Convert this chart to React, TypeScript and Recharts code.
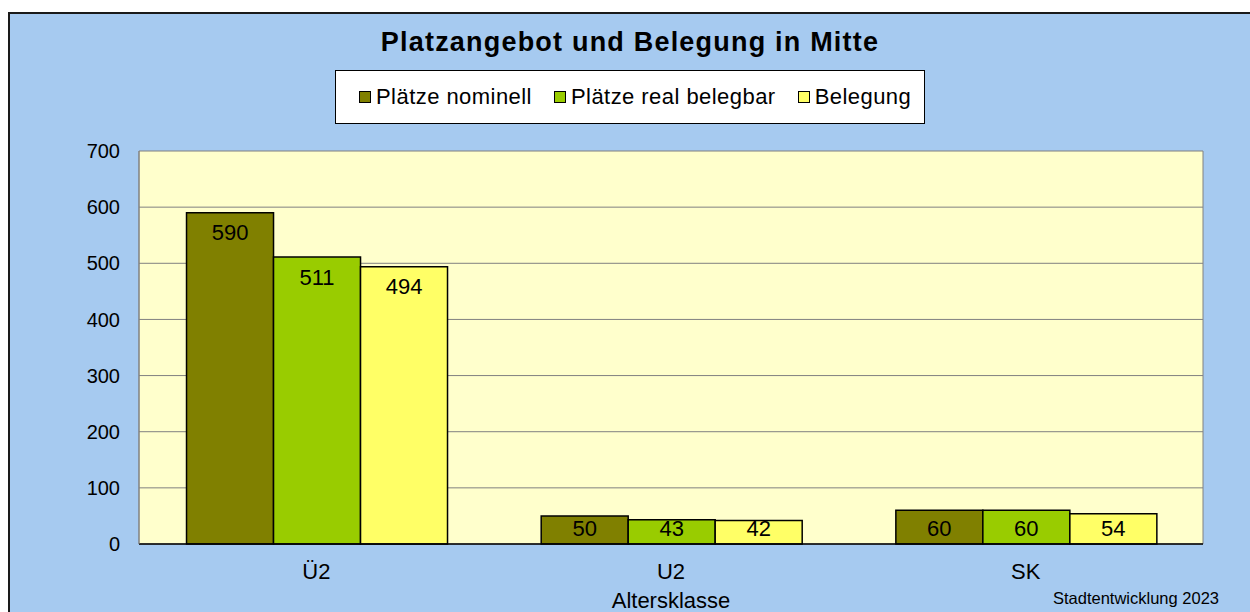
import React from "react";
import { BarChart, Bar, XAxis, YAxis, CartesianGrid, LabelList } from "recharts";

const categories = ["Ü2", "U2", "SK"];
const plaetzeNominell = [590, 50, 60];
const plaetzeReal = [511, 43, 60];
const belegung = [494, 42, 54];
const yTicks = [0, 100, 200, 300, 400, 500, 600, 700];

const FONT = '"Liberation Sans", Arial, sans-serif';

const SERIES = [
  { key: "nominell", name: "Plätze nominell", color: "#808000" },
  { key: "real", name: "Plätze real belegbar", color: "#99CC00" },
  { key: "belegung", name: "Belegung", color: "#FFFF66" },
];

const data = categories.map((category, i) => ({
  category,
  nominell: plaetzeNominell[i],
  real: plaetzeReal[i],
  belegung: belegung[i],
}));

// Wert innen oben, bei kurzen Balken etwas nach oben geschoben
const renderInsideLabel = (props: any) => {
  const x = Number(props.x);
  const y = Number(props.y);
  const width = Number(props.width);
  const height = Number(props.height);
  const cy = Math.min(y + 20, y + height - 16);
  return (
    <text
      x={x + width / 2}
      y={cy}
      textAnchor="middle"
      dominantBaseline="central"
      fontSize={22}
      fontFamily={FONT}
      fill="#000"
    >
      {props.value}
    </text>
  );
};

export default function App() {
  return (
    <div
      style={{
        position: "fixed",
        top: 0,
        left: 0,
        width: 1250,
        height: 612,
        overflow: "hidden",
        background: "#fff",
        fontFamily: FONT,
      }}
    >
      <div
        style={{
          position: "absolute",
          left: 8,
          top: 12,
          width: 1270,
          height: 640,
          background: "#A6CAF0",
          border: "2px solid #1a1a1a",
        }}
      />

      <div style={{ position: "absolute", top: 0, left: 0 }}>
        <BarChart
          width={1250}
          height={612}
          data={data}
          margin={{ top: 151, right: 47, bottom: 3, left: 39 }}
          barCategoryGap="13.4%"
          barGap={0}
        >
          <CartesianGrid
            fill="#FFFFCC"
            stroke="#808080"
            strokeWidth={1}
            verticalCoordinatesGenerator={({ offset }: any) => [
              offset.left,
              offset.left + offset.width,
            ]}
          />
          <XAxis
            dataKey="category"
            interval={0}
            axisLine={{ stroke: "#000", strokeWidth: 1.5 }}
            tickLine={false}
            tickSize={0}
            tickMargin={19}
            height={65}
            tick={{ fontSize: 22, fill: "#000", fontFamily: FONT }}
            label={{
              value: "Altersklasse",
              position: "insideBottom",
              offset: 1,
              fontSize: 22,
              fill: "#000",
              fontFamily: FONT,
            }}
          />
          <YAxis
            domain={[0, 700]}
            ticks={yTicks}
            interval={0}
            width={100}
            axisLine={{ stroke: "#808080" }}
            tickLine={false}
            tickSize={0}
            tickMargin={19}
            tick={{ fontSize: 20, fill: "#000", fontFamily: FONT }}
          />
          {SERIES.map((s) => (
            <Bar
              key={s.key}
              dataKey={s.key}
              name={s.name}
              fill={s.color}
              stroke="#000"
              strokeWidth={1.5}
              isAnimationActive={false}
            >
              <LabelList dataKey={s.key} content={renderInsideLabel} />
            </Bar>
          ))}
        </BarChart>
      </div>

      <div
        style={{
          position: "absolute",
          left: 0,
          top: 28,
          width: 1260,
          height: 28,
          lineHeight: "28px",
          textAlign: "center",
          fontWeight: "bold",
          fontSize: 27,
          letterSpacing: 1.2,
          color: "#000",
        }}
      >
        Platzangebot und Belegung in Mitte
      </div>

      <div
        style={{
          position: "absolute",
          left: 335,
          top: 70,
          width: 590,
          height: 54,
          boxSizing: "border-box",
          border: "1px solid #000",
          background: "#fff",
          display: "flex",
          alignItems: "center",
          paddingLeft: 23,
          gap: 22,
        }}
      >
        {SERIES.map((s) => (
          <div key={s.key} style={{ display: "flex", alignItems: "center" }}>
            <span
              style={{
                display: "inline-block",
                width: 12,
                height: 12,
                boxSizing: "border-box",
                border: "1.5px solid #000",
                background: s.color,
                marginRight: 5,
              }}
            />
            <span
              style={{
                fontSize: 22,
                color: "#000",
                lineHeight: "24px",
                letterSpacing: 0.45,
              }}
            >
              {s.name}
            </span>
          </div>
        ))}
      </div>

      <div
        style={{
          position: "absolute",
          right: 31,
          top: 589,
          fontSize: 16.5,
          lineHeight: "18px",
          color: "#000",
        }}
      >
        Stadtentwicklung 2023
      </div>
    </div>
  );
}
